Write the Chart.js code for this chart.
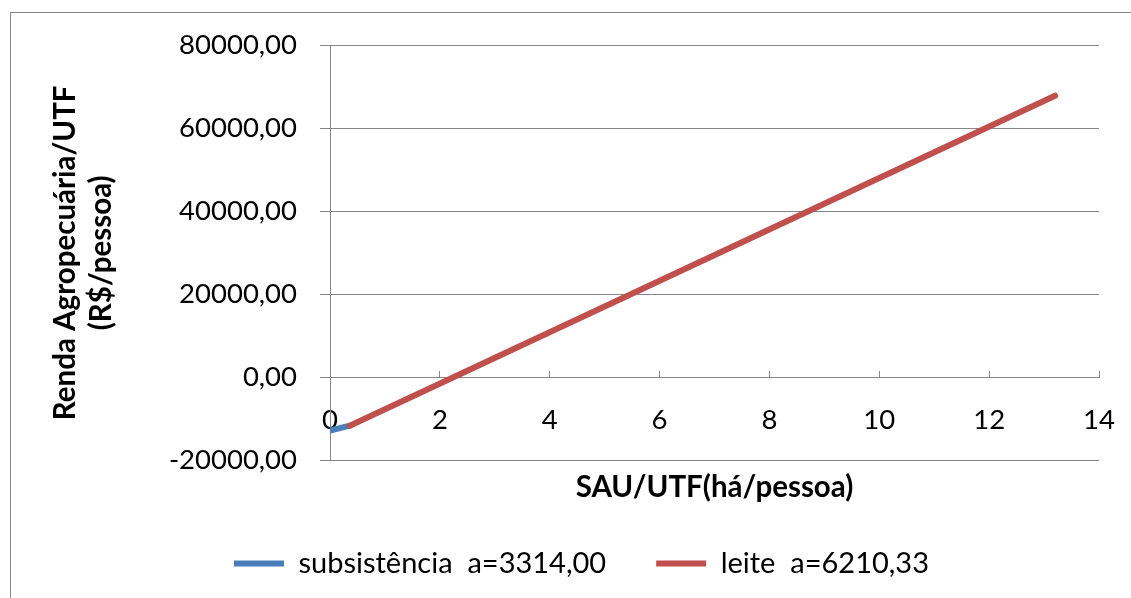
<!DOCTYPE html>
<html>
<head>
<meta charset="utf-8">
<script src="https://cdn.jsdelivr.net/npm/chart.js@4.4.1/dist/chart.umd.min.js"></script>
<style>
  html, body { margin: 0; padding: 0; background: #fff; overflow: hidden; }
  #frame { position: absolute; left: 10px; top: 12px; width: 1200px; height: 700px; border: 1px solid #868686; }
  #wrap { position: absolute; left: 0; top: 0; width: 1131px; height: 598px; }
</style>
</head>
<body>
<div id="frame"></div>
<div id="wrap"><canvas id="chart"></canvas></div>
<script>
// values
const subsistenciaX = [0, 0.36];
const subsistenciaY = [-12800, -11600];
const leiteX = [0.36, 13.2];
const leiteY = [-11600, 67800];
const seriesNames = ['subsistência  a=3314,00', 'leite  a=6210,33'];
const xTickValues = [0, 2, 4, 6, 8, 10, 12, 14];
const yTickValues = [-20000, 0, 20000, 40000, 60000, 80000];
const xTitle = 'SAU/UTF(há/pessoa)';
const yTitle = ['Renda Agropecuária/UTF', '(R$/pessoa)'];

const blue = '#4a7ebb';
const red = '#c0504d';
const gridGray = '#868686';
const fontFamily = 'Lato, "Open Sans", sans-serif';

function toPoints(xs, ys) {
    return xs.map((x, i) => ({ x: x, y: ys[i] }));
}

// nudge the legend to where it sits in the original
const legendShift = {
    id: 'legendShift',
    afterLayout(chart) {
        const lg = chart.legend;
        if (!lg) return;
        lg.left += 27; lg.right += 27;
        lg.top -= 10; lg.bottom -= 10;
    }
};

const ctx = document.getElementById('chart').getContext('2d');

new Chart(ctx, {
    type: 'line',
    data: {
        datasets: [{
            label: seriesNames[0],
            data: toPoints(subsistenciaX, subsistenciaY),
            borderColor: blue,
            backgroundColor: blue,
            borderWidth: 6,
            borderCapStyle: 'round',
            pointRadius: 0,
            tension: 0,
            order: 1
        }, {
            label: seriesNames[1],
            data: toPoints(leiteX, leiteY),
            borderColor: red,
            backgroundColor: red,
            borderWidth: 6,
            borderCapStyle: 'round',
            pointRadius: 0,
            tension: 0,
            order: 0
        }]
    },
    plugins: [legendShift],
    options: {
        responsive: true,
        maintainAspectRatio: false,
        animation: false,
        layout: { padding: { left: 10, right: 32, top: 45, bottom: 0 } },
        plugins: {
            tooltip: { enabled: false },
            legend: {
                position: 'bottom',
                labels: {
                    font: { family: fontFamily, size: 29 },
                    color: '#000',
                    usePointStyle: true,
                    pointStyle: 'line',
                    pointStyleWidth: 50,
                    padding: 50,
                    sort: (a, b) => a.datasetIndex - b.datasetIndex
                }
            }
        },
        scales: {
            x: {
                type: 'linear',
                position: { y: 0 },
                min: xTickValues[0],
                max: xTickValues[xTickValues.length - 1],
                grid: { display: true, drawOnChartArea: false, drawTicks: true, tickLength: 22, tickColor: 'rgba(0,0,0,0)' },
                border: { display: true, color: gridGray, width: 1 },
                ticks: {
                    stepSize: xTickValues[1] - xTickValues[0],
                    padding: 4,
                    color: '#000',
                    font: { family: fontFamily, size: 27.5 },
                    maxRotation: 0,
                    callback: v => String(v)
                }
            },
            // only the little tick marks above the zero line
            xMarks: {
                type: 'linear',
                position: { y: 0 },
                min: xTickValues[0],
                max: xTickValues[xTickValues.length - 1],
                grid: { display: true, drawOnChartArea: false, drawTicks: true, tickLength: -6, tickColor: gridGray },
                border: { display: false },
                ticks: { stepSize: xTickValues[1] - xTickValues[0], display: false }
            },
            xTitle: {
                type: 'linear',
                position: 'bottom',
                grid: { display: false, drawTicks: false },
                border: { display: false },
                ticks: { display: false },
                title: {
                    display: true,
                    text: xTitle,
                    color: '#000',
                    font: { family: fontFamily, size: 29.5, weight: 'bold', lineHeight: 1.2 },
                    padding: { top: 9, bottom: 4 }
                }
            },
            y: {
                type: 'linear',
                position: 'left',
                min: yTickValues[0],
                max: yTickValues[yTickValues.length - 1],
                afterFit: s => { s.width = 320; },
                grid: { color: gridGray, lineWidth: 1, drawTicks: true, tickLength: 10, tickColor: gridGray },
                border: { display: true, color: gridGray, width: 1 },
                ticks: {
                    stepSize: yTickValues[1] - yTickValues[0],
                    padding: 23,
                    color: '#000',
                    font: { family: fontFamily, size: 27.5 },
                    callback: v => v.toFixed(2).replace('.', ',')
                },
                title: {
                    display: true,
                    text: yTitle,
                    color: '#000',
                    font: { family: fontFamily, size: 29.5, weight: 'bold', lineHeight: 1.22 },
                    padding: { top: 37, bottom: 0 }
                }
            }
        }
    }
});
</script>
</body>
</html>
